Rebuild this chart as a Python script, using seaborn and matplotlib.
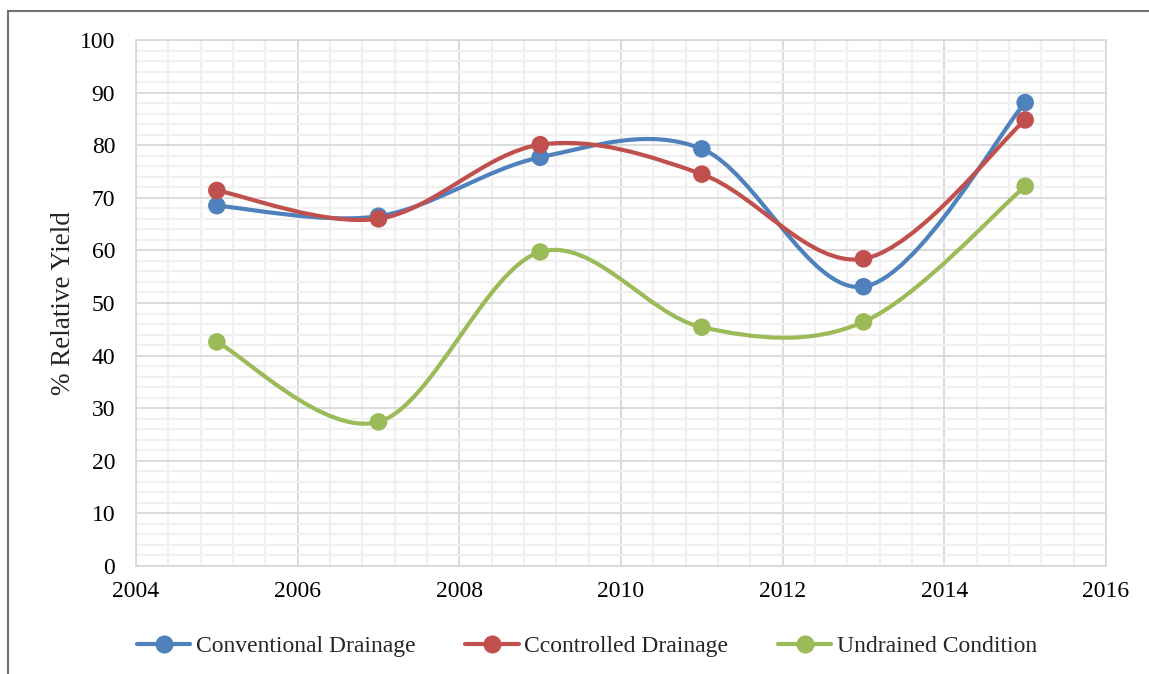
import numpy as np
import pandas as pd
import matplotlib.pyplot as plt
from matplotlib.path import Path
from matplotlib.patches import PathPatch, Rectangle
from matplotlib.lines import Line2D
from matplotlib.ticker import MultipleLocator
import seaborn as sns

# Values
years = [2005, 2007, 2009, 2011, 2013, 2015]
conventional = [68.5, 66.5, 77.7, 79.3, 53.1, 88.1]
controlled = [71.4, 66.0, 80.1, 74.5, 58.4, 84.8]
undrained = [42.6, 27.4, 59.7, 45.4, 46.4, 72.2]

series_names = ['Conventional Drainage', 'Ccontrolled Drainage', 'Undrained Condition']
colors = ['#4f81bd', '#c0504d', '#9bbb59']

df = pd.DataFrame({
    'year': years * 3,
    'value': conventional + controlled + undrained,
    'series': [n for n in series_names for _ in years],
})

sns.set_theme(style="white")
plt.rcParams['font.family'] = ['Liberation Serif', 'DejaVu Serif']


def smooth_path(xs, ys):
    # Excel-like smoothed line: cubic bezier segments through the points
    pts = np.column_stack([xs, ys]).astype(float)
    n = len(pts)
    verts = [pts[0]]
    codes = [Path.MOVETO]
    for i in range(n - 1):
        p0 = pts[max(i - 1, 0)]
        p1 = pts[i]
        p2 = pts[i + 1]
        p3 = pts[min(i + 2, n - 1)]
        c1 = p1 + (p2 - p0) / 6
        c2 = p2 - (p3 - p1) / 6
        verts += [c1, c2, p2]
        codes += [Path.CURVE4] * 3
    return Path(verts, codes)


fs = 17

fig = plt.figure(figsize=(11.49, 6.74), dpi=100)
ax = fig.add_axes([136 / 1149, 1 - 566 / 674, 970 / 1149, 526 / 674])

for name, col in zip(series_names, colors):
    sub = df[df['series'] == name]
    patch = PathPatch(smooth_path(sub['year'], sub['value']), fill=False,
                      edgecolor=col, lw=3, capstyle='round', zorder=3)
    ax.add_patch(patch)

sns.scatterplot(data=df, x='year', y='value', hue='series', palette=colors,
                s=160, edgecolor=None, linewidth=0, legend=False, ax=ax, zorder=4)

ax.set_xlim(2004, 2016)
ax.set_ylim(0, 100)
ax.xaxis.set_major_locator(MultipleLocator(2))
ax.xaxis.set_minor_locator(MultipleLocator(0.4))
ax.yaxis.set_major_locator(MultipleLocator(10))
ax.yaxis.set_minor_locator(MultipleLocator(2))
ax.grid(which='minor', color='#f0f0f0', lw=1.6, zorder=0)
ax.grid(which='major', color='#d9d9d9', lw=1.3, zorder=1)
ax.set_axisbelow(True)
for sp in ax.spines.values():
    sp.set_color('#d9d9d9')
    sp.set_linewidth(1.3)
ax.tick_params(which='both', length=0, labelsize=fs, colors='black')
ax.tick_params(axis='x', pad=11)
ax.tick_params(axis='y', pad=15)
ax.set_xlabel('')
ax.set_ylabel('% Relative Yield', fontsize=19.5, labelpad=3)

handles = [Line2D([], [], color=c, lw=3, marker='o', markersize=12) for c in colors]
fig.legend(handles, series_names, loc='center', bbox_to_anchor=(0.511, 1 - 646 / 674),
           ncol=3, frameon=False, fontsize=fs, handlelength=2.25, handletextpad=0.25,
           columnspacing=2.1)

# outer chart frame (partially visible in the reference)
fig.patches.append(Rectangle((8 / 1149, -0.1), 1.2, 1.1 - 11 / 674,
                             transform=fig.transFigure, fill=False,
                             edgecolor='#767171', lw=1.5))

fig.savefig('out.png', dpi=100)
